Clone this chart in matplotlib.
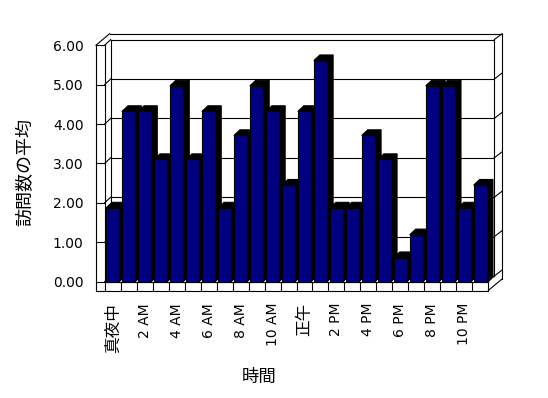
import numpy as np
import matplotlib
matplotlib.use("Agg")
import matplotlib.pyplot as plt
from matplotlib.patches import Polygon

plt.rcParams['font.family'] = ['DejaVu Sans', 'Noto Sans CJK JP']

# average visits per hour (0..23)
visits = [1.87, 4.32, 4.32, 3.10, 4.97, 3.10, 4.32, 1.87, 3.71, 4.97, 4.32, 2.45,
          4.32, 5.61, 1.87, 1.87, 3.71, 3.10, 0.61, 1.19, 4.97, 4.97, 1.87, 2.45]
tick_labels = ["真夜中", "2 AM", "4 AM", "6 AM", "8 AM", "10 AM",
               "正午", "2 PM", "4 PM", "6 PM", "8 PM", "10 PM"]
tick_hours = np.arange(0, 24, 2)
y_ticks = np.arange(0, 7)

n = len(visits)
# fake 3d geometry (category units, value units)
DX, DY = 0.375, 0.142      # depth of the plot box
BX, BY = 0.48, 0.15        # back wall thickness
WALL = 0.544               # left wall thickness
FLOOR = 0.226              # floor thickness
m = 0.085                  # gap at each side of a bar
lw = 0.8

fig = plt.figure(figsize=(5.48, 3.98), dpi=100)
ax = fig.add_axes([96 / 548, 1 - 290.5 / 398, 406 / 548, 256.8 / 398])
ax.set_xlim(-WALL, n + DX + BX)
ax.set_ylim(-FLOOR, 6 + DY + BY)


def seg(p, q, z=1):
    ax.plot([p[0], q[0]], [p[1], q[1]], color='k', lw=lw,
            solid_capstyle='projecting', zorder=z, clip_on=False)


# back wall + gridlines
seg((DX, DY), (DX, 6 + DY))
seg((n + DX, DY), (n + DX, 6 + DY))
for v in y_ticks:
    seg((DX, v + DY), (n + DX, v + DY))
    seg((0, v), (DX, v + DY))
    seg((-WALL, v), (0, v), z=3)
    seg((n + DX, v + DY), (n + DX + BX, v + DY + BY))
seg((-WALL + DX + BX, 6 + DY + BY), (n + DX + BX, 6 + DY + BY))
seg((n + DX + BX, 6 + DY + BY), (n + DX + BX, -FLOOR + DY + BY))

# left wall
seg((-WALL, -FLOOR), (-WALL, 6), z=3)
seg((0, 0), (0, 6), z=3)
seg((-WALL, 6), (-WALL + DX + BX, 6 + DY + BY), z=3)

# floor
seg((-WALL, -FLOOR), (n, -FLOOR), z=3)
seg((0, 0), (n, 0), z=1.5)
for k in range(n + 1):
    seg((k, -FLOOR), (k, 0), z=3)
seg((n, 0), (n + DX, DY), z=1.5)
seg((n, -FLOOR), (n + DX + BX, -FLOOR + DY + BY), z=3)

# bars
for k, v in enumerate(visits):
    x0, x1 = k + m, k + 1 - m
    z = 2 + k * 0.01
    side = Polygon([(x1, 0), (x1, v), (x1 + DX, v + DY), (x1 + DX, DY)],
                   closed=True, facecolor='k', edgecolor='k', lw=lw, zorder=z)
    top = Polygon([(x0, v), (x1, v), (x1 + DX, v + DY), (x0 + DX, v + DY)],
                  closed=True, facecolor='k', edgecolor='k', lw=lw, zorder=z)
    front = Polygon([(x0, 0), (x1, 0), (x1, v), (x0, v)],
                    closed=True, facecolor='#000080', edgecolor='k', lw=lw, zorder=z + 0.005)
    ax.add_patch(side)
    ax.add_patch(top)
    ax.add_patch(front)

for s in ax.spines.values():
    s.set_visible(False)
ax.set_facecolor('none')

ax.set_yticks(y_ticks)
ax.set_yticklabels([f"{v:.2f}" for v in y_ticks])
ax.set_xticks(tick_hours + 0.5)
ax.set_xticklabels(tick_labels, rotation=90, va='top', ha='center')
ax.tick_params(axis='y', length=0, pad=9, labelsize=10)
ax.tick_params(axis='x', length=0, pad=9, labelsize=10)
for t in ax.get_xticklabels():
    if t.get_text() in ("真夜中", "正午"):
        t.set_fontsize(12)

fig.text(25 / 548, 1 - 172 / 398, "訪問数の平均", rotation=90,
         ha='center', va='center', fontsize=13)
fig.text(259 / 548, 1 - 377 / 398, "時間", ha='center', va='center', fontsize=12.5)

fig.savefig("out.png", dpi=100, facecolor='white')
